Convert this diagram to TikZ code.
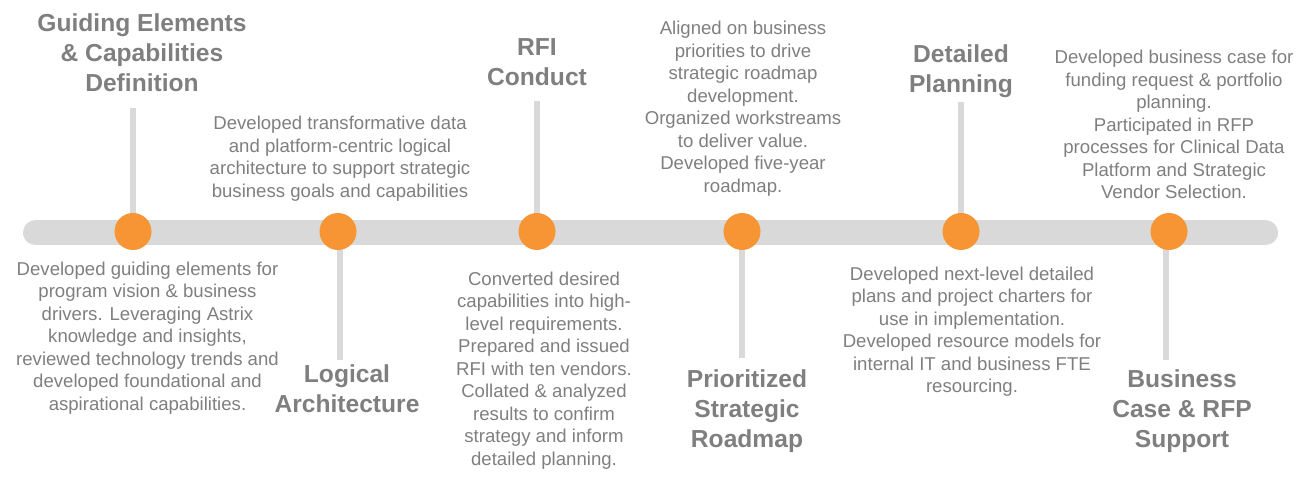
\documentclass[tikz,border=0pt]{standalone}
\usepackage{fontspec}
\setmainfont{Liberation Sans}
\definecolor{barc}{HTML}{D9D9D9}
\definecolor{dotc}{HTML}{F79433}
\definecolor{txt}{HTML}{7F7F7F}
\begin{document}
\begin{tikzpicture}[x=1pt,y=-1pt]
\tikzset{
 bar/.style={draw=barc, line width=25pt, line cap=round},
 stem/.style={draw=barc, line width=5.5pt},
 dot/.style={circle, fill=dotc, minimum size=37pt, inner sep=0pt},
 title/.style={font=\fontsize{24.6}{30}\selectfont\bfseries, text=txt, align=center, anchor=base, inner sep=0pt},
 desc/.style={font=\fontsize{18.6}{22.5}\selectfont, text=txt, align=center, anchor=base, inner sep=0pt},
}
\useasboundingbox (0,0) rectangle (1315,481);
% bar
\coordinate (bl) at (35.5,233);
\coordinate (br) at (1265.5,233);
\draw[bar] (bl) -- (br);
% milestone positions
\coordinate (p1) at (133,231.5);
\coordinate (p2) at (338,231.5);
\coordinate (p3) at (537,231.5);
\coordinate (p4) at (742,231.5);
\coordinate (p5) at (961,231.5);
\coordinate (p6) at (1169,231.5);
% stem ends
\coordinate (s1) at (133,108);
\coordinate (s2) at (340,360);
\coordinate (s3) at (537,101);
\coordinate (s4) at (742,358);
\coordinate (s5) at (961,102);
\coordinate (s6) at (1166,360);
\draw[stem] (s1 |- p1) -- (s1);
\draw[stem] (s2 |- p2) -- (s2);
\draw[stem] (s3 |- p3) -- (s3);
\draw[stem] (s4 |- p4) -- (s4);
\draw[stem] (s5 |- p5) -- (s5);
\draw[stem] (s6 |- p6) -- (s6);
\node[dot] (c1) at (p1) {};
\node[dot] (c2) at (p2) {};
\node[dot] (c3) at (p3) {};
\node[dot] (c4) at (p4) {};
\node[dot] (c5) at (p5) {};
\node[dot] (c6) at (p6) {};
% titles (anchor = baseline of last line)
\node[title] (t1) at (142,92) {Guiding Elements\\\& Capabilities\\Definition};
\node[title] (t2) at (347,412) {Logical\\Architecture};
\node[title] (t3) at (537,86) {RFI\\Conduct};
\node[title] (t4) at (747,447) {Prioritized\\Strategic\\Roadmap};
\node[title] (t5) at (961,93) {Detailed\\Planning};
\node[title] (t6) at (1182,447) {Business\\Case \& RFP\\Support};
% descriptions
\node[desc] (d1) at (147.5,410) {Developed guiding elements for\\program vision \& business\\drivers. Leveraging Astrix\\knowledge and insights,\\reviewed technology trends and\\developed foundational and\\aspirational capabilities.};
\node[desc] (d2) at (340,197.5) {Developed transformative data\\and platform-centric logical\\architecture to support strategic\\business goals and capabilities};
\node[desc] (d3) at (544,465) {Converted desired\\capabilities into high-\\level requirements.\\Prepared and issued\\RFI with ten vendors.\\Collated \& analyzed\\results to confirm\\strategy and inform\\detailed planning.};
\node[desc] (d4) at (743,192.5) {Aligned on business\\priorities to drive\\strategic roadmap\\development.\\Organized workstreams\\to deliver value.\\Developed five-year\\roadmap.};
\node[desc] (d5) at (972,392.5) {Developed next-level detailed\\plans and project charters for\\use in implementation.\\Developed resource models for\\internal IT and business FTE\\resourcing.};
\node[desc] (d6) at (1174,199) {Developed business case for\\funding request \& portfolio\\planning.\\Participated in RFP\\processes for Clinical Data\\Platform and Strategic\\Vendor Selection.};
\end{tikzpicture}
\end{document}
